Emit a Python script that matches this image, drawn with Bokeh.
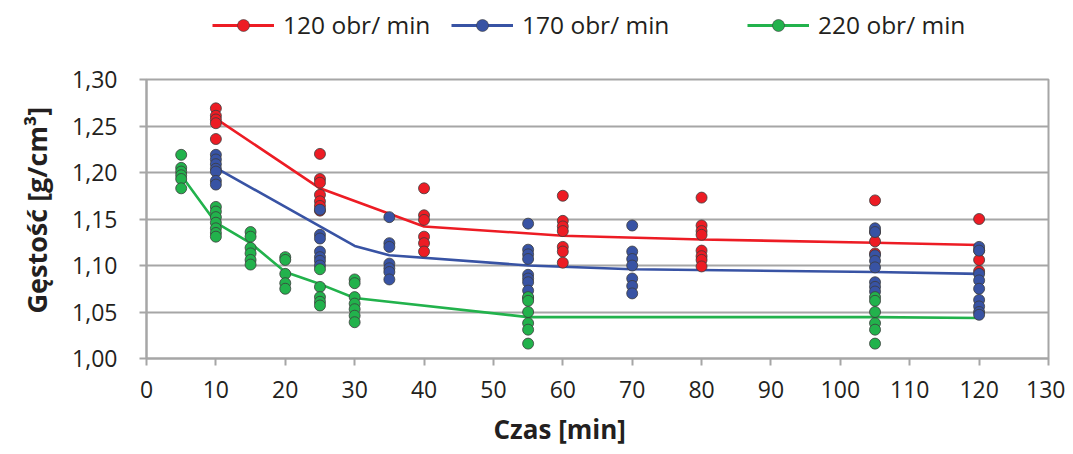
from bokeh.plotting import figure
from bokeh.layouts import column
from bokeh.models import (Range1d, FixedTicker, CustomJSTickFormatter, Legend, LegendItem,
                          Title)
from bokeh.embed import file_html
from bokeh.resources import INLINE

# ---------------- data ----------------
series_labels = ["120 obr/ min", "170 obr/ min", "220 obr/ min"]

red_times = [10, 25, 40, 60, 80, 105, 120]
red_values = [
    [1.269, 1.261, 1.257, 1.253, 1.236],
    [1.220, 1.193, 1.189, 1.176, 1.169, 1.164, 1.159],
    [1.183, 1.154, 1.149, 1.131, 1.124, 1.115],
    [1.175, 1.148, 1.142, 1.137, 1.120, 1.115, 1.103],
    [1.173, 1.143, 1.137, 1.133, 1.116, 1.110, 1.106, 1.099],
    [1.170, 1.136, 1.126, 1.113],
    [1.150, 1.116, 1.106, 1.094],
]
blue_times = [10, 25, 35, 55, 70, 105, 120]
blue_values = [
    [1.219, 1.214, 1.209, 1.204, 1.201, 1.191, 1.187],
    [1.160, 1.133, 1.129, 1.115, 1.109, 1.105, 1.100],
    [1.152, 1.124, 1.120, 1.102, 1.097, 1.093, 1.085],
    [1.145, 1.117, 1.112, 1.107, 1.090, 1.086, 1.082, 1.073, 1.065],
    [1.143, 1.115, 1.107, 1.100, 1.086, 1.078, 1.070],
    [1.140, 1.136, 1.111, 1.105, 1.098, 1.082, 1.077, 1.072],
    [1.120, 1.116, 1.091, 1.084, 1.075, 1.063, 1.056, 1.050, 1.047],
]
green_times = [5, 10, 15, 20, 25, 30, 55, 105]
green_values = [
    [1.219, 1.205, 1.201, 1.197, 1.193, 1.183],
    [1.163, 1.158, 1.152, 1.146, 1.140, 1.135, 1.131],
    [1.136, 1.131, 1.119, 1.113, 1.106, 1.101],
    [1.109, 1.106, 1.091, 1.081, 1.075],
    [1.096, 1.077, 1.066, 1.061, 1.057],
    [1.085, 1.081, 1.066, 1.059, 1.053, 1.046, 1.039],
    [1.066, 1.062, 1.050, 1.038, 1.031, 1.016],
    [1.066, 1.062, 1.050, 1.038, 1.031, 1.016],
]

red_line_t = [10, 25, 40, 60, 80, 105, 120]
red_line_y = [1.258, 1.183, 1.142, 1.132, 1.128, 1.1245, 1.122]
blue_line_t = [10, 30, 35, 55, 70, 105, 120]
blue_line_y = [1.205, 1.121, 1.111, 1.100, 1.096, 1.093, 1.091]
green_line_t = [5, 10, 15, 20, 25, 30, 55, 105, 120]
green_line_y = [1.197, 1.146, 1.124, 1.093, 1.080, 1.065, 1.0445, 1.0445, 1.0435]

x_ticks = [0, 10, 20, 30, 40, 50, 60, 70, 80, 90, 100, 110, 120, 130]
y_ticks = [1.00, 1.05, 1.10, 1.15, 1.20, 1.25, 1.30]

# ---------------- styling ----------------
colors = ["#ED1C24", "#3853A4", "#22B24C"]
FONT = "Open Sans"
TXT = "#231F20"
GRAY = "#A6A6A6"
W = 1065
TOP_H = 62

line_sets = [(red_line_t, red_line_y), (blue_line_t, blue_line_y), (green_line_t, green_line_y)]
point_sets = [(red_times, red_values), (blue_times, blue_values), (green_times, green_values)]

# ---------- legend strip (separate figure so the legends are not clipped by the chart) ----------
lg = figure(width=W, height=TOP_H, output_backend="svg", toolbar_location=None,
            x_axis_type=None, y_axis_type=None, x_range=Range1d(0, 1), y_range=Range1d(0, 1),
            min_border_left=0, min_border_right=0, min_border_top=0, min_border_bottom=0)
lg.title.visible = False
lg.outline_line_color = None
lg.xgrid.visible = False
lg.ygrid.visible = False

# legend offsets from the chart's left plot edge (the strip's frame is aligned with it)
legend_x = [66, 305, 601]
for lab, c, lx, (lt, ly) in zip(series_labels, colors, legend_x, line_sets):
    # legend-only renderers: their data lie outside the strip's ranges, so only the keys show
    lr = lg.line(lt, ly, line_color=c, line_width=3)
    mk = lg.scatter(lt, ly, marker="circle", size=7, fill_color=c, line_color="#3C3C3C",
                    line_width=0.6)
    leg = Legend(items=[LegendItem(label=lab, renderers=[lr, mk])], location=(lx, 21),
                 orientation="horizontal", glyph_width=62, glyph_height=30, label_height=30,
                 label_standoff=9, padding=0, margin=0, spacing=0, border_line_color=None,
                 background_fill_alpha=0, label_text_font=FONT, label_text_font_size="24.5px",
                 label_text_color=TXT)
    lg.add_layout(leg)

# ---------- main chart ----------
p = figure(width=W, height=454 - TOP_H, output_backend="svg", toolbar_location=None,
           x_range=Range1d(0, 130), y_range=Range1d(1.0, 1.3),
           min_border_left=146, min_border_right=17, min_border_top=17, min_border_bottom=96)
p.title.visible = False
p.background_fill_color = "white"
p.border_fill_color = "white"
p.outline_line_color = GRAY
p.outline_line_width = 2

p.xgrid.visible = False
p.ygrid.grid_line_color = GRAY
p.ygrid.grid_line_width = 2
p.ygrid.ticker = FixedTicker(ticks=y_ticks)

for ax in (p.xaxis[0], p.yaxis[0]):
    ax.axis_line_color = GRAY
    ax.axis_line_width = 2
    ax.major_tick_line_color = GRAY
    ax.major_tick_line_width = 2
    ax.major_tick_out = 7
    ax.major_tick_in = 0
    ax.minor_tick_line_color = None
    ax.major_label_text_font = FONT
    ax.major_label_text_font_size = "23px"
    ax.major_label_text_color = TXT

p.xaxis.ticker = FixedTicker(ticks=x_ticks)
p.xaxis.major_label_standoff = 15
p.yaxis.ticker = FixedTicker(ticks=y_ticks)
p.yaxis.formatter = CustomJSTickFormatter(code="return tick.toFixed(2).replace('.', ',');")
p.yaxis.major_label_standoff = 22

yt = Title(text="Gęstość [g/cm³]", align="left", offset=45, standoff=30, text_font=FONT,
           text_font_size="27px", text_font_style="bold", text_color=TXT)
p.add_layout(yt, "left")

xt = Title(text="Czas [min]", align="left", offset=347, standoff=16, text_font=FONT,
           text_font_size="26px", text_font_style="bold", text_color=TXT)
p.add_layout(xt, "below")

for (lt, ly), c in zip(line_sets, colors):
    p.line(lt, ly, line_color=c, line_width=2.6)

for (times, vals), c in zip(point_sets, colors):
    xs, ys = [], []
    for t, vv in zip(times, vals):
        for v in vv:
            xs.append(t)
            ys.append(v)
    p.scatter(xs, ys, marker="circle", size=11, fill_color=c, line_color="#3C3C3C",
              line_width=0.8)

layout = column(lg, p, spacing=0)
open("out.html", "w").write(file_html(layout, INLINE))
